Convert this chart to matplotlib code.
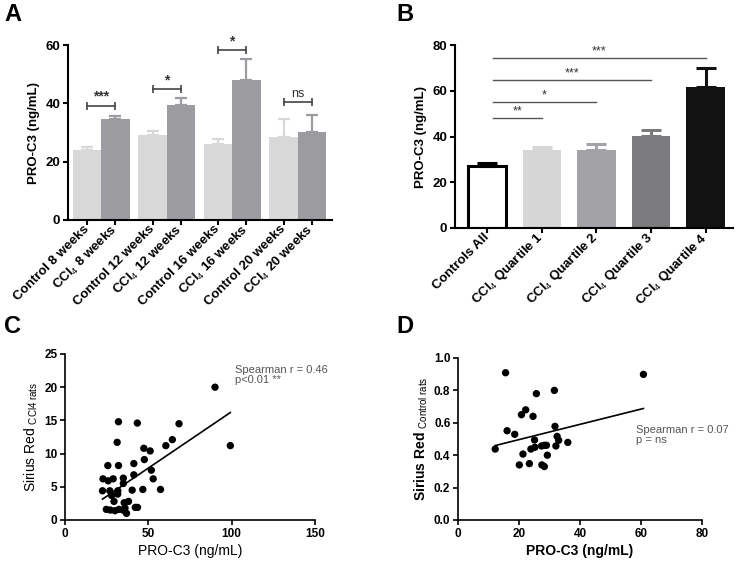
import matplotlib
matplotlib.use('Agg')
import matplotlib.pyplot as plt
import numpy as np

plt.rcParams['font.family'] = ['Liberation Sans', 'DejaVu Sans']
plt.rcParams['mathtext.fontset'] = 'custom'
plt.rcParams['mathtext.rm'] = 'Liberation Sans'
plt.rcParams['mathtext.it'] = 'Liberation Sans:italic'
plt.rcParams['mathtext.bf'] = 'Liberation Sans:bold'

# --- Panel A: PRO-C3 per time point
a_labels = ['Control 8 weeks', r'CCl$_{\mathrm{4}}$ 8 weeks',
            'Control 12 weeks', r'CCl$_{\mathrm{4}}$ 12 weeks',
            'Control 16 weeks', r'CCl$_{\mathrm{4}}$ 16 weeks',
            'Control 20 weeks', r'CCl$_{\mathrm{4}}$ 20 weeks']
control_means = [24.0, 29.1, 25.9, 28.5]
control_err = [1.2, 1.5, 2.0, 6.1]
ccl4_means = [34.6, 39.4, 48.0, 30.3]
ccl4_err = [0.9, 2.6, 7.2, 5.8]
a_sig_text = ['***', '*', '*', 'ns']
a_sig_level = [39.2, 44.9, 58.2, 40.6]

# --- Panel B: PRO-C3 by quartile
b_labels = ['Controls All', r'CCl$_{\mathrm{4}}$ Quartile 1', r'CCl$_{\mathrm{4}}$ Quartile 2',
            r'CCl$_{\mathrm{4}}$ Quartile 3', r'CCl$_{\mathrm{4}}$ Quartile 4']
b_means = [27.0, 34.1, 34.1, 40.2, 61.5]
b_err = [1.6, 1.3, 2.6, 2.8, 8.5]
b_sig_target = [1, 2, 3, 4]
b_sig_text = ['**', '*', '***', '***']
b_sig_level = [48.1, 55.1, 64.7, 74.3]

# --- Panel C: Sirius red vs PRO-C3, CCl4 rats
c_x = [90, 99.2, 32.1, 43.4, 68.4, 64.4, 60.5, 31.3, 47.3, 51.1, 47.6, 41.3, 25.7, 32.1,
       51.8, 41.3, 52.9, 22.8, 25.9, 28.9, 35.0, 35.0, 22.5, 26.9, 31.7, 40.3, 46.7, 57.3,
       28.0, 31.6, 29.4, 35.5, 38.1, 42.2, 43.5, 24.8, 27.2, 30.0, 32.4, 34.8, 36.0, 36.9]
c_y = [20.0, 11.2, 14.8, 14.6, 14.5, 12.1, 11.2, 11.7, 10.8, 10.4, 9.1, 8.5, 8.2, 8.2,
       7.5, 6.8, 6.2, 6.2, 5.9, 6.2, 6.3, 5.5, 4.4, 4.4, 4.4, 4.5, 4.6, 4.6,
       3.7, 3.9, 2.8, 2.6, 2.8, 1.9, 1.9, 1.6, 1.5, 1.4, 1.6, 1.5, 1.8, 1.0]
c_slope, c_intercept = 0.170, -0.68

# --- Panel D: Sirius red vs PRO-C3, control rats
d_x = [15.6, 60.8, 31.6, 25.7, 22.2, 20.8, 24.6, 31.8, 16.1, 18.6, 32.5, 25.1, 33.0, 36.0,
       12.2, 23.9, 25.2, 27.4, 28.3, 29.0, 32.1, 21.3, 29.3, 20.1, 23.4, 27.5, 28.3]
d_y = [0.909, 0.899, 0.80, 0.78, 0.68, 0.65, 0.64, 0.578, 0.551, 0.529, 0.516, 0.494, 0.492, 0.479,
       0.438, 0.438, 0.449, 0.457, 0.461, 0.461, 0.457, 0.407, 0.40, 0.34, 0.348, 0.34, 0.33]
d_slope, d_intercept = 0.00471, 0.402


def style_axes(ax, lw=1.5):
    for s in ['top', 'right']:
        ax.spines[s].set_visible(False)
    for s in ['left', 'bottom']:
        ax.spines[s].set_linewidth(lw)
    ax.tick_params(direction='out', length=3.5, width=lw, pad=2)


fig = plt.figure(figsize=(7.36, 5.63), dpi=100)
W, H = 736.0, 563.0

# Panel A
axA = fig.add_axes([68 / W, 1 - 220 / H, 264 / W, 175 / H])
style_axes(axA)
group_x = np.arange(4) * 2.31
axA.bar(group_x, control_means, width=1.0, color='#d8d8d8')
axA.bar(group_x + 1, ccl4_means, width=1.0, color='#9c9ca0')
axA.errorbar(group_x, control_means, yerr=[np.zeros(4), control_err], fmt='none',
             ecolor='#d8d8d8', elinewidth=1.6, capsize=4.5, capthick=1.6)
axA.errorbar(group_x + 1, ccl4_means, yerr=[np.zeros(4), ccl4_err], fmt='none',
             ecolor='#9c9ca0', elinewidth=1.6, capsize=4.5, capthick=1.6)
for gx, txt, lev in zip(group_x, a_sig_text, a_sig_level):
    axA.plot([gx, gx + 1], [lev, lev], color='#444444', lw=1.2, marker='|',
             markersize=6, mew=1.2, clip_on=False)
    axA.text(gx + 0.5, lev + 0.6, txt, ha='center', va='bottom',
             fontsize=10 if txt != 'ns' else 9,
             fontweight='bold' if txt != 'ns' else 'normal', color='#333333')
axA.set_xlim(-0.67, 3 * 2.31 + 1 + 0.71)
axA.set_ylim(0, 60)
axA.set_yticks([0, 20, 40, 60])
xt = np.ravel(np.column_stack([group_x, group_x + 1]))
axA.set_xticks(xt)
axA.set_xticklabels(a_labels, rotation=45, ha='right', va='center', rotation_mode='anchor',
                    fontsize=9.5, fontweight='bold')
for lab in axA.get_yticklabels():
    lab.set_fontsize(9.5)
    lab.set_fontweight('bold')
axA.set_ylabel('PRO-C3 (ng/mL)', fontsize=9.5, fontweight='bold', labelpad=4)

# Panel B
axB = fig.add_axes([455 / W, 1 - 228 / H, 278 / W, 183 / H])
style_axes(axB)
bx = np.arange(5)
b_colors = ['white', '#d6d6d6', '#a3a3a7', '#7b7b7d', '#121212']
b_ecol = ['black', '#d6d6d6', '#a3a3a7', '#7b7b7d', '#121212']
axB.bar(bx, b_means, width=0.705, color=b_colors,
        edgecolor=['black', 'none', 'none', 'none', 'none'], linewidth=2.2)
for i in range(5):
    axB.errorbar(bx[i], b_means[i], yerr=[[0], [b_err[i]]], fmt='none', ecolor=b_ecol[i],
                 elinewidth=2.2, capsize=7.5, capthick=2.2)
for tgt, txt, lev in zip(b_sig_target, b_sig_text, b_sig_level):
    axB.plot([0.1, tgt], [lev, lev], color='#555555', lw=1.0)
    axB.text((0.1 + tgt) / 2, lev + 0.2, txt, ha='center', va='bottom', fontsize=9,
             color='#333333')
axB.set_xlim(-0.59, 4.5)
axB.set_ylim(0, 80)
axB.set_yticks([0, 20, 40, 60, 80])
axB.set_xticks(bx)
axB.set_xticklabels(b_labels, rotation=45, ha='right', va='center', rotation_mode='anchor',
                    fontsize=9.5, fontweight='bold')
for lab in axB.get_yticklabels():
    lab.set_fontsize(9.5)
    lab.set_fontweight('bold')
axB.set_ylabel('PRO-C3 (ng/mL)', fontsize=9.5, fontweight='bold', labelpad=4)

# Panel C
axC = fig.add_axes([65 / W, 1 - 520 / H, 250 / W, 166 / H])
style_axes(axC, lw=1.2)
axC.scatter(c_x, c_y, s=28, color='black', edgecolors='none', zorder=3)
cx_line = np.array([min(c_x), max(c_x)])
axC.plot(cx_line, c_slope * cx_line + c_intercept, color='black', lw=1.2)
axC.text(102, 23.4, 'Spearman r = 0.46\np<0.01 **', fontsize=8, color='#555555',
         va='top', ha='left', linespacing=1.0)
axC.set_xlim(0, 150)
axC.set_ylim(0, 25)
axC.set_xticks([0, 50, 100, 150])
axC.set_yticks([0, 5, 10, 15, 20, 25])
for lab in axC.get_xticklabels() + axC.get_yticklabels():
    lab.set_fontsize(8.5)
    lab.set_fontweight('bold')
axC.set_xlabel('PRO-C3 (ng/mL)', fontsize=10, labelpad=3)
axC.set_ylabel(r'Sirius Red $_{\mathrm{CCl4\ rats}}$', fontsize=10, labelpad=3)

# Panel D
axD = fig.add_axes([458 / W, 1 - 520 / H, 244 / W, 162 / H])
style_axes(axD, lw=1.2)
axD.scatter(d_x, d_y, s=28, color='black', edgecolors='none', zorder=3)
dx_line = np.array([min(d_x), max(d_x)])
axD.plot(dx_line, d_slope * dx_line + d_intercept, color='black', lw=1.2)
axD.text(58.4, 0.585, 'Spearman r = 0.07\np = ns', fontsize=8, color='#555555',
         va='top', ha='left', linespacing=1.0)
axD.set_xlim(0, 80)
axD.set_ylim(0, 1.0)
axD.set_xticks([0, 20, 40, 60, 80])
axD.set_yticks([0, 0.2, 0.4, 0.6, 0.8, 1.0])
axD.set_yticklabels(['%.1f' % v for v in [0, 0.2, 0.4, 0.6, 0.8, 1.0]])
for lab in axD.get_xticklabels() + axD.get_yticklabels():
    lab.set_fontsize(8.5)
    lab.set_fontweight('bold')
axD.set_xlabel('PRO-C3 (ng/mL)', fontsize=10, fontweight='bold', labelpad=3)
axD.set_ylabel(r'Sirius Red $_{\mathrm{Control\ rats}}$', fontsize=10, fontweight='bold',
               labelpad=3)

# panel letters
for x, y, letter in [(0.006, 0.994, 'A'), (0.538, 0.994, 'B'),
                     (0.006, 0.44, 'C'), (0.538, 0.44, 'D')]:
    fig.text(x, y, letter, fontsize=17, fontweight='bold', va='top', ha='left')

fig.savefig('out.png', dpi=100)
plt.close(fig)
